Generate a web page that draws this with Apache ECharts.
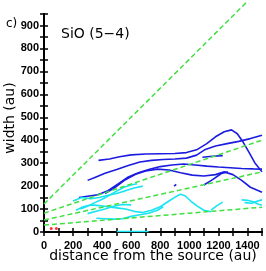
<!DOCTYPE html>
<html><head><meta charset="utf-8">
<script src="https://cdn.jsdelivr.net/npm/echarts@6/dist/echarts.min.js"></script>
<style>html,body{margin:0;padding:0;background:#fff}#c{width:266px;height:271px}</style>
</head><body><div id="c"></div>
<script>
const xTickLabels = [0,200,400,600,800,1000,1200,1400];
const yTickLabels = [0,100,200,300,400,500,600,700,800,900];

const blue1 = [[375,312],[450,318],[520,328],[600,336],[700,340],[800,341],[900,342],[980,346],[1050,358],[1120,385],[1180,415],[1240,437],[1290,445],[1330,428],[1370,392],[1410,348],[1450,302],[1500,262]];
const blue2 = [[300,225],[350,238],[420,256],[500,272],[580,290],[660,305],[740,312],[820,316],[900,318],[980,322],[1050,335],[1110,360],[1180,375],[1260,385],[1340,395],[1420,407],[1500,422]];
const blue3 = [[240,150],[300,156],[370,162],[440,180],[510,210],[580,240],[650,258],[720,272],[800,285],[880,292],[960,296],[1040,292],[1120,287],[1200,283],[1280,280],[1360,277],[1440,275],[1500,274]];
const blue4 = [[420,168],[490,195],[560,228],[630,252],[700,266],[780,274],[860,270],[940,258],[1020,248],[1100,244],[1180,250],[1240,262],[1300,250],[1360,225],[1420,195],[1500,173]];
const blue5 = [[1100,205],[1160,228],[1220,255],[1265,262]];
const blue6 = [[895,200],[910,208]];
const blue7 = [[1090,326],[1160,330],[1230,333]];

const cyan1 = [[250,100],[300,112],[350,128],[400,143],[450,160],[500,178],[550,195],[600,205],[640,210]];
const cyan2 = [[200,135],[260,150],[320,145],[380,150],[440,160],[500,168],[560,180],[620,192],[680,200]];
const cyan3 = [[220,95],[270,110],[320,118],[380,115],[440,110],[500,105],[560,100],[620,90],[680,85],[740,95],[800,110],[860,135],[910,155],[940,165],[970,158],[1010,135],[1050,115],[1100,95],[1150,88]];
const cyan4 = [[300,80],[360,90],[420,100],[480,112],[540,120],[600,118]];
const cyan5 = [[360,60],[420,58],[480,56],[540,58],[600,68],[660,75],[720,82],[780,95],[820,110]];
const cyan6 = [[1150,95],[1190,115],[1230,130]];
const cyan7 = [[1360,140],[1400,138],[1440,132],[1480,120],[1500,118]];
const cyan8 = [[1380,128],[1430,125],[1470,135],[1500,140]];
const cyan9 = [[500,2],[720,2]];

const green1 = [[0,122],[1400,1005]];
const green2 = [[0,82],[1500,400]];
const green3 = [[0,52],[1500,262]];
const green4 = [[0,30],[1500,108]];

const redPts = [[50,15],[85,15]];

const BLUE = '#1c1ce0', CYAN = '#18e4f2', GREEN = '#3fe03f';
function line(data, color, width, dashed, clip){
  return {type:'line', data, showSymbol:false, silent:true, animation:false,
    clip: clip !== false,
    lineStyle:{color, width, type: dashed ? [5,3] : 'solid'}, z: dashed ? 3 : 2};
}
const series = [
  line(blue1,BLUE,1.6), line(blue2,BLUE,1.6), line(blue3,BLUE,1.6), line(blue4,BLUE,1.6),
  line(blue5,BLUE,1.6), line(blue6,BLUE,1.6), line(blue7,BLUE,1.6),
  line(cyan1,CYAN,1.6), line(cyan2,CYAN,1.6), line(cyan3,CYAN,1.6), line(cyan4,CYAN,1.6),
  line(cyan5,CYAN,1.6), line(cyan6,CYAN,1.6), line(cyan7,CYAN,1.6), line(cyan8,CYAN,1.6), line(cyan9,CYAN,1.6),
  line(green1,GREEN,1.5,true,false), line(green2,GREEN,1.5,true), line(green3,GREEN,1.5,true), line(green4,GREEN,1.5,true),
  {type:'scatter', data: redPts, symbol:'circle', symbolSize:3, itemStyle:{color:'#ff0000'}, silent:true, animation:false}
];

const axisFont = {fontFamily:'Liberation Sans', fontWeight:'bold', fontSize:11, color:'#000'};
const chart = echarts.init(document.getElementById('c'), null, {renderer:'canvas'});
chart.setOption({
  animation:false,
  grid:{left:44, right:4, top:14, bottom:39},
  xAxis:[
    {type:'value', min:0, max:1500, interval:100, position:'bottom',
     axisLine:{show:true, lineStyle:{color:'#000', width:2}},
     axisTick:{show:true, inside:true, length:4, lineStyle:{color:'#000', width:1.5}},
     splitLine:{show:false},
     axisLabel:{...axisFont, margin:8, formatter:v => xTickLabels.includes(v) ? String(v) : ''}},
    {type:'value', min:0, max:1500, interval:100, position:'top',
     axisLine:{show:true, lineStyle:{color:'#000', width:2}},
     axisTick:{show:true, inside:true, length:4, lineStyle:{color:'#000', width:1.5}},
     splitLine:{show:false}, axisLabel:{show:false}}
  ],
  yAxis:[
    {type:'value', min:0, max:950, interval:50, position:'left',
     axisLine:{show:true, lineStyle:{color:'#000', width:2}},
     axisTick:{show:true, inside:true, length:4, lineStyle:{color:'#000', width:1.5}},
     splitLine:{show:false},
     axisLabel:{...axisFont, margin:5, formatter:v => yTickLabels.includes(v) ? String(v) : ''}},
    {type:'value', min:0, max:950, interval:50, position:'right',
     axisLine:{show:true, lineStyle:{color:'#000', width:2}},
     axisTick:{show:true, inside:true, length:4, lineStyle:{color:'#000', width:1.5}},
     splitLine:{show:false}, axisLabel:{show:false}}
  ],
  graphic:[
    {type:'text', left:6, top:18, style:{text:'c)', font:'12px "DejaVu Sans"', fill:'#000'}},
    {type:'text', left:61, top:27, style:{text:'SiO (5\u22124)', font:'14px "DejaVu Sans"', fill:'#000'}},
    {type:'text', x:153, y:256, style:{text:'distance from the source (au)', font:'14px "DejaVu Sans"', fill:'#000', align:'center', verticalAlign:'middle'}},
    {type:'text', x:10, y:118, rotation:Math.PI/2, style:{text:'width (au)', font:'14px "DejaVu Sans"', fill:'#000', align:'center', verticalAlign:'middle'}}
  ],
  series
});
</script>
</body></html>
